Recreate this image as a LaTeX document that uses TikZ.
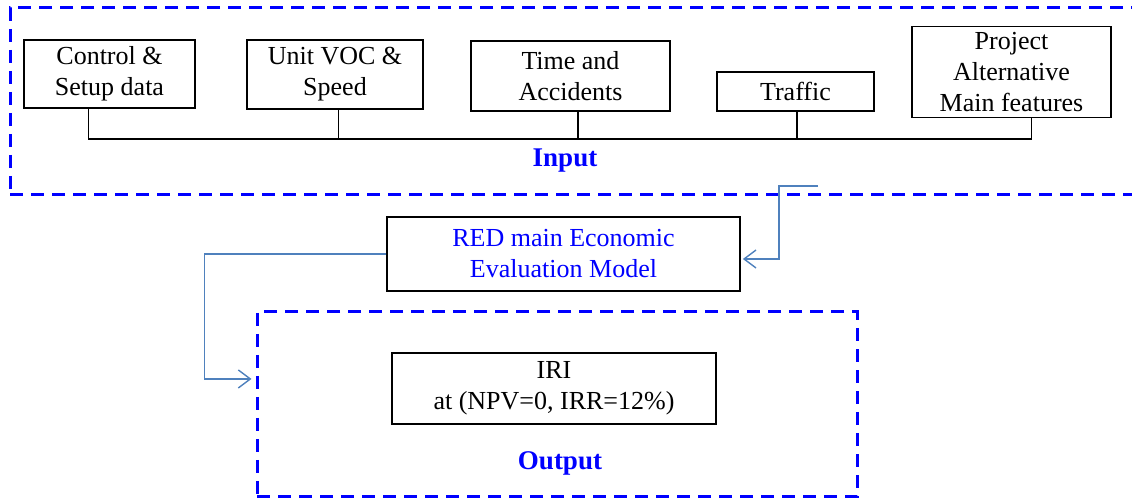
\documentclass[tikz,border=0pt]{standalone}
\usepackage{fontspec}
\setmainfont{Liberation Serif}
\usetikzlibrary{arrows.meta,calc}
\definecolor{conncol}{RGB}{79,129,189}
\begin{document}
\begin{tikzpicture}[x=0.5pt,y=-0.5pt,
  box/.style={draw=black,line width=0.85pt,inner sep=0pt,align=center,font=\fontsize{13pt}{15.5pt}\selectfont},
  dbox/.style={draw=blue,line width=1.5pt,dash pattern=on 6.5pt off 4pt,inner sep=0pt},
  lbl/.style={text=blue,font=\fontsize{13.5pt}{15pt}\selectfont\bfseries},
  conn/.style={draw=conncol,line width=0.7pt,-{Straight Barb[length=6pt,width=9pt]}},
  busline/.style={draw=black,line width=0.85pt}]
\clip (0,0) rectangle (1132,502);
% Input group
\node[dbox,minimum width=567.5pt,minimum height=93.5pt] (inbox) at (577.5,101.5) {};
\node[box,minimum width=85.5pt,minimum height=34pt] (ctrl) at (109.5,74) {Control \&\\Setup data};
\node[box,minimum width=88pt,minimum height=34.5pt] (voc) at (335,74.5) {Unit VOC \&\\Speed};
\node[box,minimum width=99.5pt,minimum height=35pt] (time) at (570.5,76) {Time and\\Accidents};
\node[box,minimum width=78.5pt,minimum height=19.5pt] (traf) at (795.5,91.5) {Traffic};
\node[box,minimum width=99.5pt,minimum height=45.5pt] (proj) at (1011.5,72) {Project\\Alternative\\Main features};
\coordinate (b1) at ($(ctrl.south west)!0.378!(ctrl.south east)$);
\coordinate (b2) at ($(voc.south west)!0.52!(voc.south east)$);
\coordinate (b3) at ($(time.south west)!0.538!(time.south east)$);
\coordinate (b4) at ($(traf.south west)!0.51!(traf.south east)$);
\coordinate (b5) at ($(proj.south west)!0.6!(proj.south east)$);
\coordinate (busy) at (0,139);
\draw[busline] (b1) -- (b1 |- busy) -- (b5 |- busy) -- (b5);
\foreach \n in {b2,b3,b4} \draw[busline] (\n) -- (\n |- busy);
\node[lbl] (inlbl) at (565,161) {Input};
% Model
\node[box,minimum width=176.5pt,minimum height=37pt,text=blue] (red) at (563.5,254) {RED main Economic\\Evaluation Model};
% Output group
\node[dbox,minimum width=300pt,minimum height=92.5pt] (outbox) at (557,404.5) {};
\node[box,minimum width=162pt,minimum height=35.5pt] (iri) at (554,388.5) {IRI\\at (NPV=0, IRR=12\%)};
\node[lbl] (outlbl) at (560,463) {Output};
% Connectors
\coordinate (src) at (818,186);
\draw[conn] (src) -- ++(-39,0) |- ($(red.east)+(2,5)$);
\draw[conn] (red.west) -| ($(outbox.west)+(-51,-25.5)$) -- ($(outbox.west)+(-4,-25.5)$);
\end{tikzpicture}
\end{document}
